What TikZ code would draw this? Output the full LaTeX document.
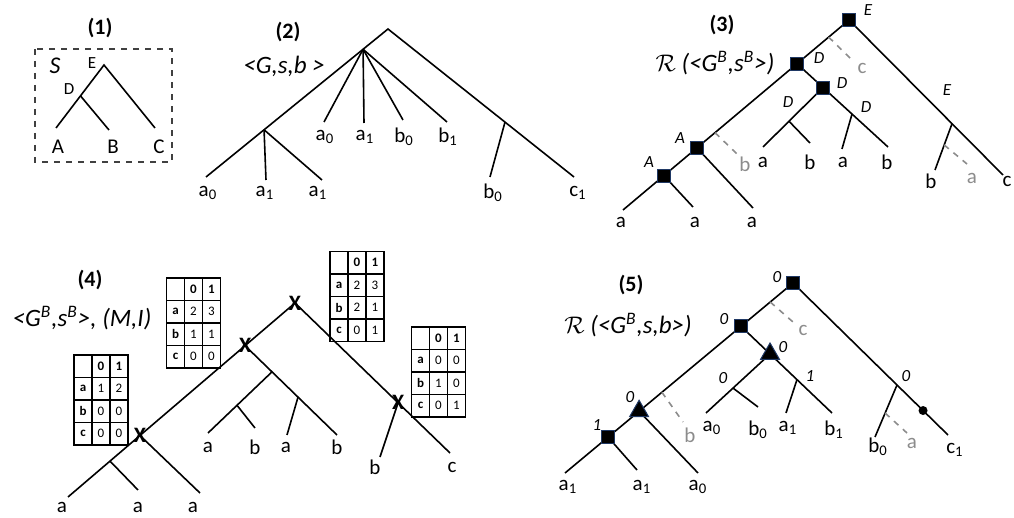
\documentclass[tikz,border=0pt]{standalone}
\usepackage{fontspec}
\setmainfont{Carlito}
\usepackage{xcolor}
\definecolor{ghost}{HTML}{8C8C8C}
\definecolor{rim}{HTML}{1F3864}
\usepackage{tikz}
\usetikzlibrary{matrix,shapes.geometric,calc}

\begin{document}
\begin{tikzpicture}[x=0.5pt,y=-0.5pt,
  br/.style={line width=0.8pt},
  gh/.style={draw=ghost,dashed,line width=0.8pt},
  lf/.style={font=\fontsize{10.5}{12}\selectfont,inner sep=0pt},
  glf/.style={lf,text=ghost},
  tg/.style={font=\itshape\fontsize{8.5}{10}\selectfont,inner sep=0pt},
  ttl/.style={font=\bfseries\fontsize{11}{12}\selectfont,inner sep=0pt},
  frm/.style={font=\itshape\fontsize{12.5}{14}\selectfont,inner sep=0pt},
  sq/.style={draw=rim,fill=black,line width=0.5pt,minimum size=6.5pt,inner sep=0pt},
  tri/.style={regular polygon,regular polygon sides=3,draw=rim,fill=black,line width=0.5pt,minimum size=11pt,inner sep=0pt},
  dt/.style={circle,fill=black,minimum size=4.5pt,inner sep=0pt},
  xm/.style={font=\bfseries\fontsize{11}{12}\selectfont,inner sep=0pt},
  tab/.style={matrix of nodes,nodes in empty cells,column sep=-0.6pt,row sep=-0.6pt,
    nodes={draw,line width=0.6pt,minimum width=9pt,minimum height=11.25pt,inner sep=0pt,anchor=center,
      font=\fontsize{6.5}{7}\selectfont}}]
\useasboundingbox (0,0) rectangle (1014,518);

\node[ttl] (t1) at (100,28) {(1)};
\draw[dashed,draw=black!75,line width=0.6pt] (35,49) rectangle (172,162);
\coordinate (r1) at (104,65);
\coordinate (l1a) at (56,128);
\coordinate (l1b) at (109,130);
\coordinate (l1c) at (155,128);
\coordinate (d1) at ($(r1)!0.49!(l1a)$);
\draw[br] (l1a) -- (r1) -- (l1c);
\draw[br] (d1) -- (l1b);
\node[frm,font=\itshape\fontsize{12}{14}\selectfont] (s1) at (55,66) {S};
\node[lf,font=\fontsize{8.5}{10}\selectfont] (e1) at (92,63) {E};
\node[lf,font=\fontsize{8.5}{10}\selectfont] (dd1) at (69,89) {D};
\node[lf] (la1) at (58,147) {A};
\node[lf] (lb1) at (113,147) {B};
\node[lf] (lc1) at (159,147) {C};

\node[ttl] (t2) at (288,32) {(2)};
\node[frm] (f2) at (284,66) {<G,s,b >};
\coordinate (r2) at (388,29);
\coordinate (l2a) at (206,177);
\coordinate (l2c) at (574,177);
\coordinate (m2) at ($(r2)!0.137!(l2a)$);
\coordinate (n2) at ($(r2)!0.681!(l2a)$);
\coordinate (o2) at ($(r2)!0.629!(l2c)$);
\coordinate (k2a) at (324,122);
\coordinate (k2b) at (364,123);
\coordinate (k2c) at (403,120);
\coordinate (k2d) at (447,122);
\coordinate (j2a) at (266,180);
\coordinate (j2b) at (322,180);
\coordinate (i2) at (490,177);
\draw[br] (l2a) -- (r2) -- (l2c);
\foreach \e in {k2a,k2b,k2c,k2d} \draw[br] (m2) -- (\e);
\draw[br] (n2) -- (j2a);
\draw[br] (n2) -- (j2b);
\draw[br] (o2) -- (i2);
\node[lf] (a2a) at (208,193) {a\textsubscript{0}};
\node[lf] (a2b) at (265,193) {a\textsubscript{1}};
\node[lf] (a2c) at (318,193) {a\textsubscript{1}};
\node[lf] (a2d) at (325,137) {a\textsubscript{0}};
\node[lf] (a2e) at (365,137) {a\textsubscript{1}};
\node[lf] (a2f) at (404,137) {b\textsubscript{0}};
\node[lf] (a2g) at (448,137) {b\textsubscript{1}};
\node[lf] (a2h) at (493,193) {b\textsubscript{0}};
\node[lf] (a2i) at (578,193) {c\textsubscript{1}};

\node[ttl] (t3) at (722,25) {(3)};
\node[frm] (f3) at (715,63) {$\mathcal{R}$ (<G\textsuperscript{B},s\textsuperscript{B}>)};
\coordinate (r3) at (849,20);
\coordinate (l3a) at (623,210);
\coordinate (l3c) at (1003,175);
\coordinate (d3) at ($(r3)!0.23!(l3a)$);
\coordinate (a3) at ($(r3)!0.673!(l3a)$);
\coordinate (a3x) at ($(r3)!0.819!(l3a)$);
\coordinate (l3b) at (888,147);
\coordinate (d3x) at ($(d3)!0.286!(l3b)$);
\coordinate (l3e) at (763,147);
\coordinate (q3) at ($(d3x)!0.567!(l3e)$);
\coordinate (l3f) at (810,143);
\coordinate (s3) at ($(d3x)!0.446!(l3b)$);
\coordinate (l3g) at (842,149);
\coordinate (e3) at ($(r3)!0.669!(l3c)$);
\coordinate (l3h) at (935,170);
\coordinate (l3i) at (753,208);
\coordinate (l3j) at (693,207);
\coordinate (g3c) at ($(r3)!0.09!(l3a)$);
\coordinate (h3c) at (852,60);
\coordinate (g3b) at ($(r3)!0.593!(l3a)$);
\coordinate (h3b) at (737,154);
\coordinate (g3a) at ($(e3)!0.46!(l3h)$);
\coordinate (h3a) at (967,164);
\draw[br] (l3a) -- (r3) -- (l3c);
\draw[br] (d3) -- (l3b);
\draw[br] (d3x) -- (l3e);
\draw[br] (q3) -- (l3f);
\draw[br] (s3) -- (l3g);
\draw[br] (e3) -- (l3h);
\draw[br] (a3) -- (l3i);
\draw[br] (a3x) -- (l3j);
\draw[gh] (g3c) -- (h3c);
\draw[gh] (g3b) -- (h3b);
\draw[gh] (g3a) -- (h3a);
\foreach \v in {r3,d3,d3x,a3,a3x} \node[sq] (sq-\v) at (\v) {};
\node[tg] (e3a) at (868,10) {E};
\node[tg] (e3b) at (819,58) {D};
\node[tg] (e3c) at (842,83) {D};
\node[tg] (e3d) at (788,102) {D};
\node[tg] (e3e) at (866,107) {D};
\node[tg] (e3f) at (947,90) {E};
\node[tg] (e3g) at (680,138) {A};
\node[tg] (e3h) at (649,162) {A};
\node[lf] (b3a) at (763,162) {a};
\node[lf] (b3b) at (810,162) {b};
\node[lf] (b3c) at (843,162) {a};
\node[lf] (b3d) at (887,162) {b};
\node[lf] (b3e) at (621,222) {a};
\node[lf] (b3f) at (695,222) {a};
\node[lf] (b3g) at (752,222) {a};
\node[lf] (b3h) at (931,181) {b};
\node[lf] (b3i) at (1007,181) {c};
\node[glf] (c3a) at (862,68) {c};
\node[glf] (c3b) at (745,164) {b};
\node[glf] (c3c) at (972,178) {a};

\node[ttl] (t4) at (90,280) {(4)};
\node[frm] (f4) at (82,318) {<G\textsuperscript{B},s\textsuperscript{B}>, (M,I)};
\coordinate (r4) at (295,303);
\coordinate (l4a) at (68,497);
\coordinate (l4c) at (450,453);
\coordinate (x4b) at ($(r4)!0.22!(l4a)$);
\coordinate (x4c) at ($(r4)!0.683!(l4a)$);
\coordinate (n4) at ($(r4)!0.815!(l4a)$);
\coordinate (x4d) at ($(r4)!0.665!(l4c)$);
\coordinate (l4b) at (337,435);
\coordinate (u4) at ($(x4b)!0.293!(l4b)$);
\coordinate (v4) at ($(x4b)!0.576!(l4b)$);
\coordinate (l4e) at (208,433);
\coordinate (w4) at ($(u4)!0.547!(l4e)$);
\coordinate (l4f) at (255,428);
\coordinate (l4g) at (287,435);
\coordinate (l4h) at (200,493);
\coordinate (l4i) at (138,490);
\coordinate (l4j) at (380,457);
\draw[br] (l4a) -- (r4) -- (l4c);
\draw[br] (x4b) -- (l4b);
\draw[br] (u4) -- (l4e);
\draw[br] (w4) -- (l4f);
\draw[br] (v4) -- (l4g);
\draw[br] (x4c) -- (l4h);
\draw[br] (n4) -- (l4i);
\draw[br] (x4d) -- (l4j);
\foreach \v in {r4,x4b,x4c,x4d} \node[xm] (x-\v) at (\v) {X};
\node[lf] (b4a) at (62,507) {a};
\node[lf] (b4b) at (138,507) {a};
\node[lf] (b4c) at (193,507) {a};
\node[lf] (b4d) at (208,447) {a};
\node[lf] (b4e) at (255,447) {b};
\node[lf] (b4f) at (286,447) {a};
\node[lf] (b4g) at (337,447) {b};
\node[lf] (b4h) at (375,467) {b};
\node[lf] (b4i) at (452,467) {c};
\matrix[tab] (m4a) at (101,400) {
  & \textbf{0} & \textbf{1} \\
  \textbf{a} & 1 & 2 \\
  \textbf{b} & 0 & 0 \\
  \textbf{c} & 0 & 0 \\
};
\matrix[tab] (m4b) at (193.5,323) {
  & \textbf{0} & \textbf{1} \\
  \textbf{a} & 2 & 3 \\
  \textbf{b} & 1 & 1 \\
  \textbf{c} & 0 & 0 \\
};
\matrix[tab] (m4c) at (357,296.5) {
  & \textbf{0} & \textbf{1} \\
  \textbf{a} & 2 & 3 \\
  \textbf{b} & 2 & 1 \\
  \textbf{c} & 0 & 1 \\
};
\matrix[tab] (m4d) at (438.5,372) {
  & \textbf{0} & \textbf{1} \\
  \textbf{a} & 0 & 0 \\
  \textbf{b} & 1 & 0 \\
  \textbf{c} & 0 & 1 \\
};

\node[ttl] (t5) at (631,285) {(5)};
\node[frm] (f5) at (628,325) {$\mathcal{R}$ (<G\textsuperscript{B},s,b>)};
\coordinate (r5) at (793,283);
\coordinate (l5a) at (565,473);
\coordinate (l5c) at (948,435);
\coordinate (s5a) at ($(r5)!0.228!(l5a)$);
\coordinate (t5a) at ($(r5)!0.675!(l5a)$);
\coordinate (s5b) at ($(r5)!0.811!(l5a)$);
\coordinate (l5b) at (832,413);
\coordinate (t5b) at ($(s5a)!0.319!(l5b)$);
\coordinate (l5d) at (706,413);
\coordinate (p5) at ($(t5b)!0.578!(l5d)$);
\coordinate (l5e) at (758,407);
\coordinate (q5) at ($(t5b)!0.435!(l5b)$);
\coordinate (l5f) at (786,413);
\coordinate (o5) at ($(r5)!0.671!(l5c)$);
\coordinate (dt5) at ($(r5)!0.839!(l5c)$);
\coordinate (l5g) at (875,437);
\coordinate (l5h) at (698,473);
\coordinate (l5i) at (637,470);
\coordinate (g5c) at ($(r5)!0.10!(l5a)$);
\coordinate (h5c) at (793,322);
\coordinate (g5b) at ($(r5)!0.575!(l5a)$);
\coordinate (h5b) at (683,422);
\coordinate (g5a) at ($(o5)!0.54!(l5g)$);
\coordinate (h5a) at (907,433);
\draw[br] (l5a) -- (r5) -- (l5c);
\draw[br] (s5a) -- (l5b);
\draw[br] (t5b) -- (l5d);
\draw[br] (p5) -- (l5e);
\draw[br] (q5) -- (l5f);
\draw[br] (o5) -- (l5g);
\draw[br] (t5a) -- (l5h);
\draw[br] (s5b) -- (l5i);
\draw[gh] (g5c) -- (h5c);
\draw[gh] (g5b) -- (h5b);
\draw[gh] (g5a) -- (h5a);
\foreach \v in {r5,s5a,s5b} \node[sq] (sq-\v) at (\v) {};
\foreach \v in {t5a,t5b} \node[tri] (tr-\v) at (\v) {};
\node[dt] (d5) at (dt5) {};
\node[tg] (e5a) at (777,277) {0};
\node[tg] (e5b) at (724,319) {0};
\node[tg] (e5c) at (783,347) {0};
\node[tg] (e5d) at (723,378) {0};
\node[tg] (e5e) at (810,376) {1};
\node[tg] (e5f) at (630,397) {0};
\node[tg] (e5g) at (597,425) {1};
\node[tg] (e5h) at (906,376) {0};
\node[lf] (b5a) at (568,487) {a\textsubscript{1}};
\node[lf] (b5b) at (642,487) {a\textsubscript{1}};
\node[lf] (b5c) at (698,487) {a\textsubscript{0}};
\node[lf] (b5d) at (712,428) {a\textsubscript{0}};
\node[lf] (b5e) at (758,430) {b\textsubscript{0}};
\node[lf] (b5f) at (788,428) {a\textsubscript{1}};
\node[lf] (b5g) at (834,430) {b\textsubscript{1}};
\node[lf] (b5h) at (878,447) {b\textsubscript{0}};
\node[lf] (b5i) at (955,450) {c\textsubscript{1}};
\node[glf] (c5a) at (912,443) {a};
\node[glf] (c5b) at (690,435) {b};
\node[glf] (c5c) at (803,330) {c};
\end{tikzpicture}
\end{document}
